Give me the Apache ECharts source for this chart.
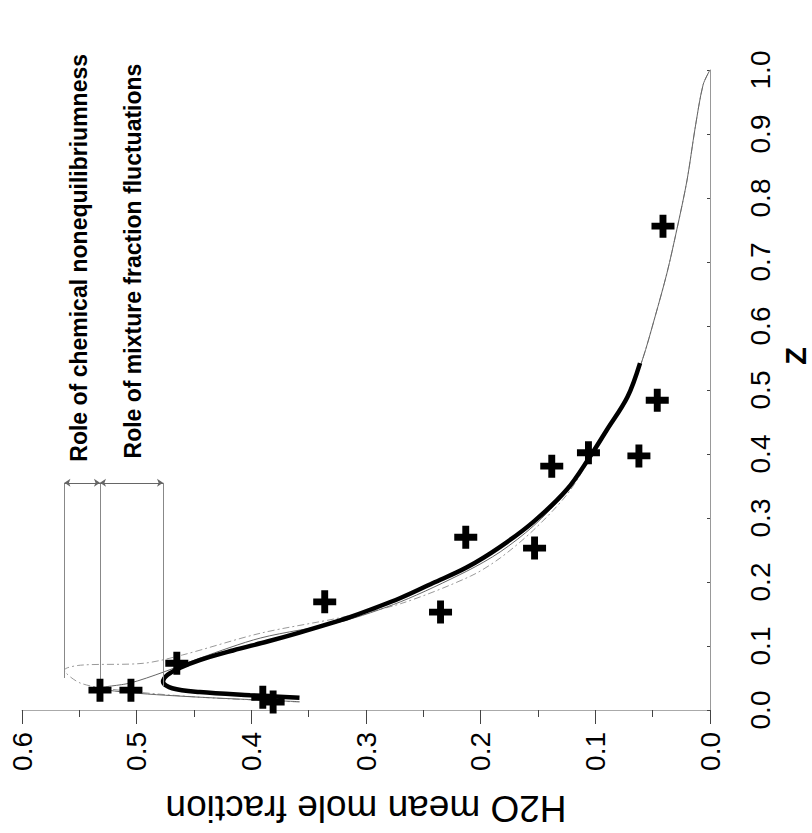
<!DOCTYPE html>
<html>
<head>
<meta charset="utf-8">
<script src="https://cdn.jsdelivr.net/npm/echarts@6/dist/echarts.min.js"></script>
<style>
html,body{margin:0;padding:0;background:#fff;}
#chart{width:812px;height:833px;}
</style>
</head>
<body>
<div id="chart"></div>
<script>
// ---- data (x = H2O mean mole fraction, y = Z) ----
const h2oTicks = [0.0, 0.1, 0.2, 0.3, 0.4, 0.5, 0.6];
const zTicks = [0.0, 0.1, 0.2, 0.3, 0.4, 0.5, 0.6, 0.7, 0.8, 0.9, 1.0];

const measH2O = [0.532, 0.505, 0.465, 0.390, 0.381, 0.336, 0.235, 0.213, 0.153, 0.138, 0.106, 0.062, 0.046, 0.041];
const measZ   = [0.031, 0.031, 0.073, 0.020, 0.0125, 0.169, 0.153, 0.270, 0.253, 0.381, 0.402, 0.397, 0.484, 0.756];

const modelH2O = [0.358, 0.401, 0.445, 0.469, 0.477, 0.473, 0.462, 0.445, 0.416, 0.386, 0.358, 0.329, 0.314, 0.270, 0.242, 0.212, 0.183, 0.154, 0.125, 0.105, 0.090, 0.072, 0.061];
const modelZ   = [0.019, 0.023, 0.028, 0.034, 0.044, 0.055, 0.066, 0.078, 0.093, 0.107, 0.121, 0.1365, 0.145, 0.175, 0.198, 0.223, 0.255, 0.294, 0.344, 0.395, 0.4375, 0.489, 0.542];

const thinH2O = [0.358, 0.445, 0.505, 0.532, 0.506, 0.477, 0.445, 0.392, 0.323, 0.270, 0.212, 0.183, 0.154, 0.125, 0.105, 0.090, 0.072, 0.059, 0.048, 0.0375, 0.029, 0.020, 0.013, 0.006, 0.0];
const thinZ   = [0.013, 0.020, 0.027, 0.034, 0.042, 0.059, 0.081, 0.1125, 0.1375, 0.169, 0.217, 0.247, 0.2875, 0.341, 0.392, 0.434, 0.4875, 0.547, 0.614, 0.683, 0.750, 0.828, 0.909, 0.977, 1.0];

const dashH2O = [0.358, 0.445, 0.515, 0.549, 0.563, 0.549, 0.494, 0.460, 0.392, 0.323, 0.270, 0.209, 0.183, 0.154, 0.125, 0.105, 0.090, 0.072, 0.059, 0.048, 0.0375, 0.029, 0.020, 0.013, 0.006, 0.0];
const dashZ   = [0.0125, 0.020, 0.031, 0.042, 0.0625, 0.070, 0.073, 0.086, 0.120, 0.144, 0.166, 0.209, 0.2375, 0.281, 0.336, 0.391, 0.434, 0.4875, 0.547, 0.614, 0.683, 0.750, 0.828, 0.909, 0.977, 1.0];

// peak levels marked by the dimension lines
const peakH2O = [0.563, 0.532, 0.477];
const peakZ   = [0.050, 0.019, 0.036];
const dimZ = 0.355;

const noteTexts = ['Role of chemical nonequilibriumness', 'Role of mixture fraction fluctuations'];
const noteH2O = [0.550, 0.503];
const noteZ = [0.388, 0.393];

const zip = (a, b) => a.map((v, i) => [v, b[i]]);

const crossPath = 'path://M3.5,0H6.5V3.5H10V6.5H6.5V10H3.5V6.5H0V3.5H3.5Z';
const FONT = 'Liberation Sans, Arial, sans-serif';

const chart = echarts.init(document.getElementById('chart'), null, {renderer: 'svg'});

const dimLines = peakH2O.map((h, i) => [{coord: [h, peakZ[i]]}, {coord: [h, dimZ]}]);
const arrowLines = [
  [{coord: [peakH2O[0], dimZ]}, {coord: [peakH2O[1], dimZ]}],
  [{coord: [peakH2O[1], dimZ]}, {coord: [peakH2O[2], dimZ]}]
];

const option = {
  animation: false,
  backgroundColor: '#fff',
  grid: {left: 22, right: 102, top: 70, bottom: 123, containLabel: false, outerBoundsMode: 'none'},
  xAxis: {
    type: 'value', min: 0, max: 0.6, interval: 0.1, inverse: true, position: 'bottom',
    name: 'H2O mean mole fraction', nameLocation: 'middle', nameRotate: 180, nameGap: 80,
    nameTextStyle: {fontFamily: FONT, fontSize: 37, color: '#000'},
    axisLine: {show: true, lineStyle: {color: '#aaa', width: 1}},
    axisTick: {show: true, length: 14, lineStyle: {color: '#444', width: 1}},
    minorTick: {show: true, splitNumber: 2, length: 7, lineStyle: {color: '#444', width: 1}},
    axisLabel: {rotate: 90, margin: 22, fontSize: 28, color: '#000', fontFamily: FONT,
      formatter: v => v.toFixed(1)},
    splitLine: {show: false}
  },
  yAxis: {
    type: 'value', min: 0, max: 1, interval: 0.1, position: 'right',
    name: 'Z', nameLocation: 'middle', nameRotate: 90, nameGap: 68,
    nameTextStyle: {fontFamily: FONT, fontSize: 29, fontWeight: 'bold', color: '#000', padding: [0, 0, 0, 68]},
    axisLine: {show: true, lineStyle: {color: '#999', width: 1}},
    axisTick: {show: true, inside: true, length: 3, lineStyle: {color: '#444'}},
    axisLabel: {rotate: 90, margin: 36, fontSize: 28, color: '#000', fontFamily: FONT,
      formatter: v => v.toFixed(1)},
    splitLine: {show: false}
  },
  series: [
    {
      type: 'line', name: 'dash', data: zip(dashH2O, dashZ), smooth: 0.3, symbol: 'none',
      lineStyle: {color: '#999', width: 1, type: [7, 3, 2, 3]}, z: 2
    },
    {
      type: 'line', name: 'thin', data: zip(thinH2O, thinZ), smooth: 0.3, symbol: 'none',
      lineStyle: {color: '#666', width: 1}, z: 2
    },
    {
      type: 'line', name: 'model', data: zip(modelH2O, modelZ), smooth: 0.35, symbol: 'none',
      lineStyle: {color: '#000', width: 4.5}, z: 3,
      markLine: {
        silent: true, symbol: ['none', 'none'], label: {show: false},
        lineStyle: {color: '#888', width: 1, type: 'solid'},
        data: dimLines
      }
    },
    {
      type: 'line', name: 'arrows', data: [], symbol: 'none',
      markLine: {
        silent: true, symbol: ['arrow', 'arrow'], symbolSize: 6, label: {show: false},
        lineStyle: {color: '#666', width: 1, type: 'solid'},
        data: arrowLines
      }
    },
    {
      type: 'scatter', name: 'measured', data: zip(measH2O, measZ), symbol: crossPath, symbolSize: 23,
      itemStyle: {color: '#000', opacity: 1}, z: 5
    },
    {
      type: 'scatter', name: 'notes', symbolSize: 0, silent: true,
      itemStyle: {opacity: 1},
      data: noteTexts.map((t, i) => ({value: [noteH2O[i], noteZ[i]], label: {formatter: t}})),
      label: {show: true, position: 'inside', rotate: 90, align: 'left', verticalAlign: 'middle',
        fontSize: 23, fontWeight: 'bold', color: '#000', opacity: 1, textBorderWidth: 0, fontFamily: FONT}
    }
  ]
};
chart.setOption(option);
</script>
</body>
</html>
